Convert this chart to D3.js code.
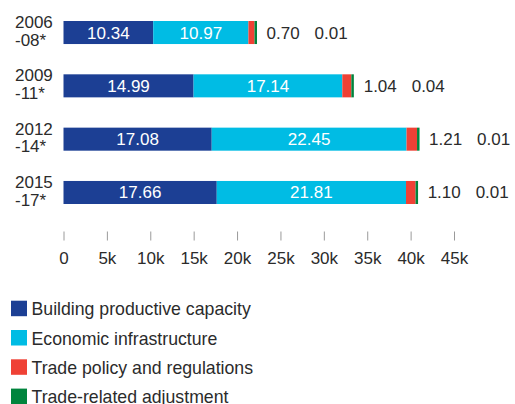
<!DOCTYPE html>
<html><head><meta charset="utf-8">
<script src="https://cdn.jsdelivr.net/npm/d3@7"></script>
<style>
html,body{margin:0;padding:0;background:#fff;}
text{font-family:"Liberation Sans",Arial,Helvetica,sans-serif;}
</style></head>
<body>
<svg id="chart" width="515" height="404"></svg>
<script>
const categories = [["2006","-08*"],["2009","-11*"],["2012","-14*"],["2015","-17*"]];
const seriesNames = ["Building productive capacity","Economic infrastructure","Trade policy and regulations","Trade-related adjustment"];
const colors = ["#1c3f94","#00bce4","#ef4135","#00843d"];
const building = [10340, 14990, 17080, 17660];
const economic = [10970, 17140, 22450, 21810];
const policy = [700, 1040, 1210, 1100];
const adjustment = [10, 40, 10, 10];
const xTicks = [0,5000,10000,15000,20000,25000,30000,35000,40000,45000];

const svg = d3.select("#chart");
const x = d3.scaleLinear().domain([0,45000]).range([63.5,454]);
const y = d3.scaleBand().domain(d3.range(categories.length)).range([21,204]).paddingInner(0.568).paddingOuter(0);

const data = categories.map((c,i)=>({i, vals:[building[i],economic[i],policy[i],adjustment[i]]}));
const stack = d3.stack().keys([0,1,2,3]).value((d,k)=>d.vals[k]);
const layers = stack(data);

const barH = y.bandwidth();
layers.forEach((layer,k)=>{
  svg.append("g").selectAll("rect").data(layer).enter().append("rect")
    .attr("x", d=>x(d[0]))
    .attr("y", d=>y(d.data.i))
    .attr("width", d=>Math.max(x(d[1])-x(d[0]), k===3?2.5:0))
    .attr("height", barH)
    .attr("fill", colors[k]);
});

// inside labels
[0,1].forEach(k=>{
  svg.append("g").selectAll("text").data(layers[k]).enter().append("text")
    .attr("x", d=>(x(d[0])+x(d[1]))/2)
    .attr("y", d=>y(d.data.i)+barH/2+6)
    .attr("text-anchor","middle")
    .attr("fill","#fff")
    .style("font-size","17px")
    .text(d=>(d.data.vals[k]/1000).toFixed(2));
});
// outside labels
data.forEach(d=>{
  const end = x(d3.sum(d.vals))+2.5;
  svg.append("text").attr("x", end+9.5).attr("y", y(d.i)+barH/2+6)
    .attr("fill","#2b2b2b").style("font-size","17px").text((d.vals[2]/1000).toFixed(2));
  svg.append("text").attr("x", end+9.5+48).attr("y", y(d.i)+barH/2+6)
    .attr("fill","#2b2b2b").style("font-size","17px").text((d.vals[3]/1000).toFixed(2));
});

// category labels
categories.forEach((c,i)=>{
  const cy = y(i)+barH/2;
  const t = svg.append("text").attr("x",15).attr("fill","#2b2b2b").style("font-size","17px");
  t.append("tspan").attr("x",15).attr("y",cy-4.5).text(c[0]);
  t.append("tspan").attr("x",15).attr("y",cy+13.2).text(c[1]);
});

// x axis
const axis = d3.axisBottom(x).tickValues(xTicks).tickSize(9).tickPadding(11)
  .tickFormat(d=> d===0 ? "0" : (d/1000)+"k");
const ag = svg.append("g").attr("transform","translate(0,231.5)").call(axis);
ag.select(".domain").remove();
ag.selectAll(".tick line").attr("stroke","#9a9a9a").attr("stroke-width",1);
ag.selectAll(".tick text").attr("fill","#2b2b2b").style("font-size","17px")
  .style("font-family","'Liberation Sans',Arial,sans-serif");

// legend
const lg = svg.append("g");
seriesNames.forEach((n,k)=>{
  const ly = 300.7 + k*29.3;
  lg.append("rect").attr("x",11).attr("y",ly).attr("width",16).attr("height",15.5).attr("fill",colors[k]);
  lg.append("text").attr("x",31.5).attr("y",ly+14.5).attr("fill","#2b2b2b").style("font-size","17.7px").text(n);
});
</script>
</body></html>
